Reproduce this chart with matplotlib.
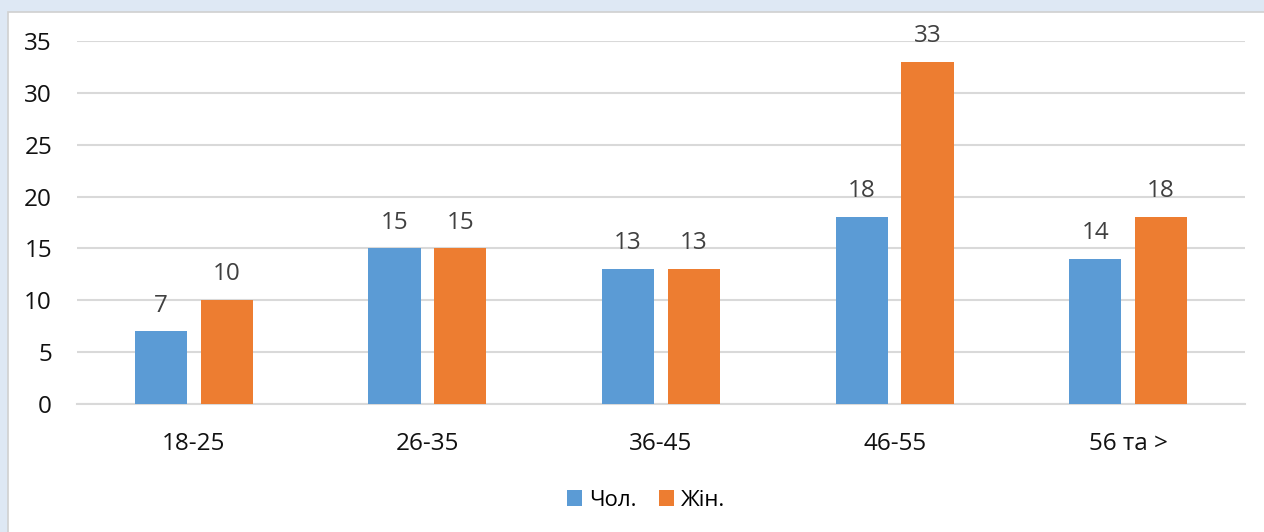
import numpy as np
import matplotlib.pyplot as plt
from matplotlib.patches import Rectangle

categories = ['18-25', '26-35', '36-45', '46-55', '56 та >']
male = [7, 15, 13, 18, 14]
female = [10, 15, 13, 33, 18]
series_names = ['Чол.', 'Жін.']

plt.rcParams['font.family'] = ['Open Sans', 'DejaVu Sans']

fig = plt.figure(figsize=(12.64, 5.32), dpi=100)
fig.patch.set_facecolor('#DEE8F4')
# white chart panel with thin grey border
fig.add_artist(Rectangle((8 / 1264, -0.01), 1.02, 1 - 12 / 532 + 0.01, transform=fig.transFigure,
                         facecolor='white', edgecolor='#D0D0D0', linewidth=1.2, zorder=0))

ax = fig.add_axes([77 / 1264, 128 / 532, 1168 / 1264, 363 / 532])
ax.set_facecolor('none')

x = np.arange(len(categories))
w = 0.223
off = 0.141
b1 = ax.bar(x - off, male, w, color='#5B9BD5', label=series_names[0], zorder=3)
b2 = ax.bar(x + off, female, w, color='#ED7D31', label=series_names[1], zorder=3)
for bars in (b1, b2):
    ax.bar_label(bars, padding=10, fontsize=17.5, color='#404040')

ax.set_xlim(-0.5, len(categories) - 0.5)
ax.set_ylim(0, 35)
ax.set_yticks(range(0, 36, 5))
ax.set_xticks(x)
ax.set_xticklabels(categories)
ax.grid(axis='y', color='#D9D9D9', linewidth=1.5, zorder=0)
for s in ['top', 'right', 'left']:
    ax.spines[s].set_visible(False)
ax.spines['bottom'].set_color('#D9D9D9')
ax.spines['bottom'].set_linewidth(1.5)
ax.tick_params(axis='both', length=0, labelsize=17.5, colors='#111111')
ax.tick_params(axis='y', pad=18)
ax.tick_params(axis='x', pad=20)

ax.legend(loc='center', bbox_to_anchor=(0.487, -0.265), ncol=2, frameon=False, fontsize=16,
          handlelength=0.7, handleheight=0.7, handletextpad=0.3, columnspacing=1.0)

plt.savefig('out.png', dpi=100, facecolor=fig.get_facecolor())
